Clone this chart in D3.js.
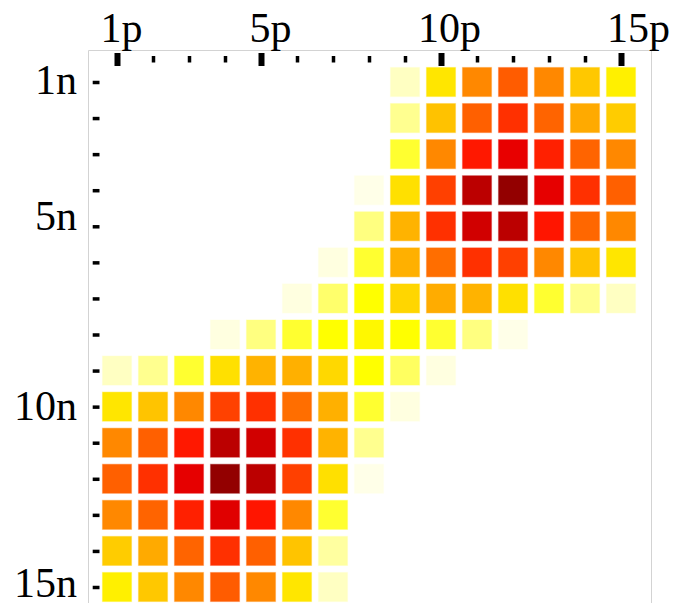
<!DOCTYPE html>
<html><head><meta charset="utf-8">
<script src="https://cdn.jsdelivr.net/npm/d3@7"></script>
<style>body{margin:0;background:#fff;overflow:hidden}</style>
</head><body><svg id="c" width="675" height="603"></svg>
<script>
// ---- data ----
const pValues = [1,2,3,4,5,6,7,8,9,10,11,12,13,14,15];
const nValues = [1,2,3,4,5,6,7,8,9,10,11,12,13,14,15];
const pLabels = ["1p","5p","10p","15p"];
const nLabels = ["1n","5n","10n","15n"];
const labelTicks = [1,5,10,15];
const rowStart = [9,9,9,8,8,7,6,4,1,1,1,1,1,1,1];
const row1  = [6, 28.6, 42.3, 48.7, 42.3, 33, 27.2];
const row2  = [10.9, 33.9, 48.1, 55, 47.5, 37.3, 32.4];
const row3  = [20.3, 42.3, 58.5, 69.5, 57.4, 47.5, 42.3];
const row4  = [2.3, 29.5, 52.7, 84, 97, 70, 55, 48];
const row5  = [12.5, 36, 55, 77, 84, 59, 47, 42.3];
const row6  = [3, 20.3, 36.5, 46, 55, 52.7, 42.3, 33.6, 28.6];
const row7  = [3, 14.5, 25, 31, 37, 36, 29.5, 20.3, 11, 6];
const row8  = [3, 12.5, 20.3, 25, 26, 25, 20.3, 12.5, 2.3];
const row9  = [6, 11, 20.3, 29.5, 36, 36.5, 30.7, 25, 15.6, 3];
const row10 = [28.6, 33.6, 42.3, 52.5, 55, 46, 36.5, 20.3, 3];
const row11 = [42.3, 48.1, 58.5, 84, 77, 55, 36, 11];
const row12 = [48.1, 55, 70, 97, 84, 52.7, 29.5, 2.3];
const row13 = [42.3, 47.5, 57.4, 72, 59, 42.3, 20.3];
const row14 = [32.4, 37.3, 47.5, 55, 48.1, 33.6, 9.3];
const row15 = [27.2, 33, 42.3, 48.7, 42.3, 28.6, 6];
const rows = [row1,row2,row3,row4,row5,row6,row7,row8,row9,row10,row11,row12,row13,row14,row15];

// ---- drawing ----
const svg = d3.select("#c");
const x = d3.scaleLinear().domain([1,15]).range([117,621]);
const y = d3.scaleLinear().domain([1,15]).range([82,587]);
const color = d3.scaleLinear().domain([0,25,62,100])
  .range(["#ffffff","#ffff00","#ff0000","#8a0000"]);

// frame
svg.append("path")
  .attr("d","M88.5,610V50.5H651.5V610")
  .attr("fill","none").attr("stroke","#d3d3d3").attr("stroke-width",1);

const cells = [];
rows.forEach((r,i)=>r.forEach((v,j)=>cells.push({n:nValues[i], p:rowStart[i]+j, v})));
const cs = 29;
svg.append("g").selectAll("rect").data(cells).join("rect")
  .attr("x", d=>x(d.p)-cs/2).attr("y", d=>y(d.n)-cs/2)
  .attr("width", cs).attr("height", cs)
  .attr("fill", d=>color(d.v))
  .attr("stroke", d=>color(d.v)).attr("stroke-opacity",0.35).attr("stroke-width",1.2);

// x minor ticks
const gxm = svg.append("g").attr("transform","translate(0,56)")
  .call(d3.axisBottom(x).tickValues(pValues).tickSize(6.5).tickFormat(""));
gxm.select(".domain").remove();
gxm.selectAll("line").attr("stroke","#000").attr("stroke-width",3.5);
// x major ticks
const gxM = svg.append("g").attr("transform","translate(0,53)")
  .call(d3.axisBottom(x).tickValues(labelTicks).tickSize(13).tickFormat(""));
gxM.select(".domain").remove();
gxM.selectAll("line").attr("stroke","#000").attr("stroke-width",6);
// x labels
const pDx = [4,9,8,17];
const gxl = svg.append("g").attr("transform","translate(0,42)")
  .call(d3.axisTop(x).tickValues(labelTicks).tickSize(0).tickPadding(0)
    .tickFormat((d,i)=>pLabels[i]));
gxl.select(".domain").remove();
gxl.selectAll("text").attr("font-family","'Liberation Serif', serif")
  .attr("font-size",42).attr("fill","#000").attr("dy",0)
  .attr("dx",(d,i)=>pDx[i]);

// y ticks
const gy = svg.append("g").attr("transform","translate(99.5,0)")
  .call(d3.axisLeft(y).tickValues(nValues).tickSize(6.8).tickFormat(""));
gy.select(".domain").remove();
gy.selectAll("line").attr("stroke","#000").attr("stroke-width",3.5);
// y labels
const nDy = [11,3,13,9];
const gyl = svg.append("g").attr("transform","translate(77,0)")
  .call(d3.axisLeft(y).tickValues(labelTicks).tickSize(0).tickPadding(0)
    .tickFormat((d,i)=>nLabels[i]));
gyl.select(".domain").remove();
gyl.selectAll("text").attr("font-family","'Liberation Serif', serif")
  .attr("font-size",42).attr("fill","#000")
  .attr("dy",(d,i)=>nDy[i]).attr("dx",0);
</script></body></html>
